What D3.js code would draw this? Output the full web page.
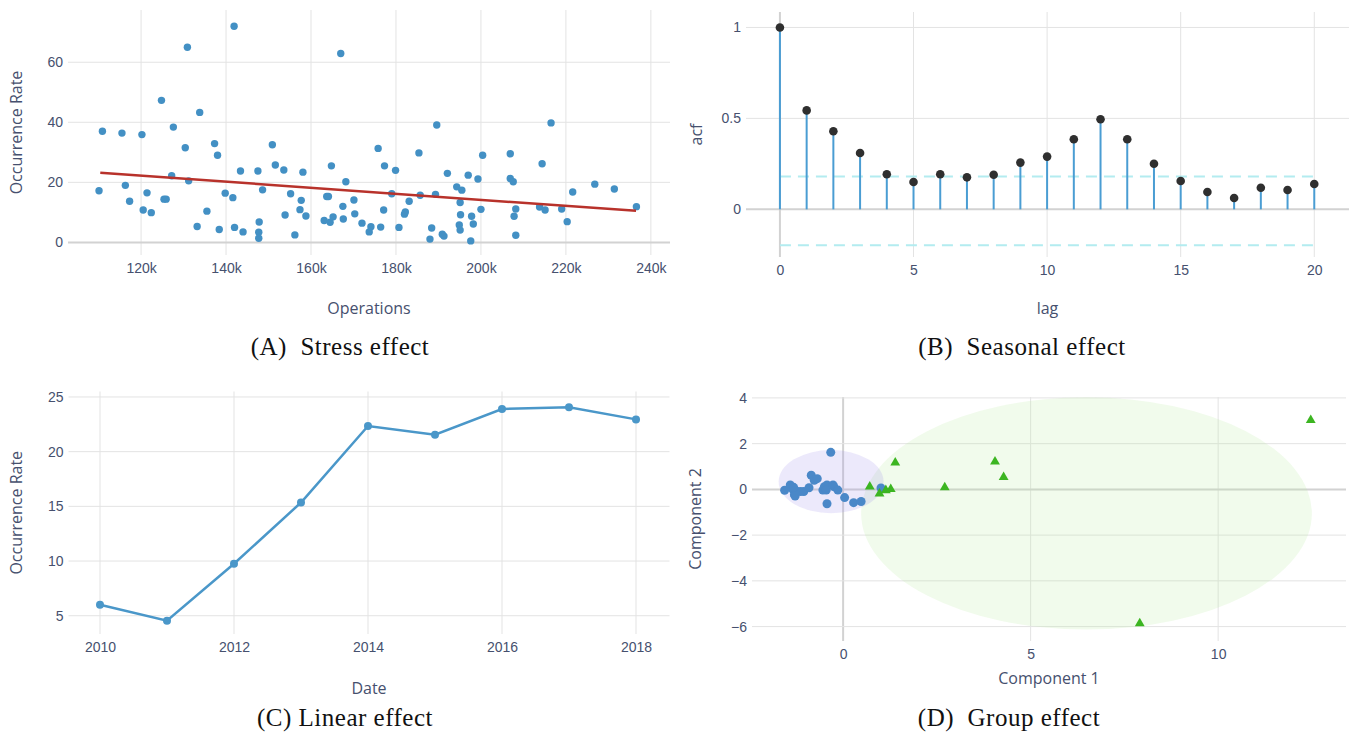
<!DOCTYPE html>
<html>
<head>
<meta charset="utf-8">
<style>
  body { margin: 0; background: #fff; }
  svg { display: block; font-family: "Open Sans", sans-serif; }
  .tick text { fill: #46506e; font-size: 14px; }
  .title { fill: #46506e; font-size: 16px; }
  .caption { font-family: "Liberation Serif", serif; font-size: 25px; fill: #111; white-space: pre; letter-spacing: 0.5px; }
</style>
</head>
<body>
<svg id="fig" width="1353" height="737"></svg>

<script src="https://d3js.org/d3.v7.min.js"></script>
<script>
    // (A) stress effect: operations (thousands) vs occurrence rate
    var operationsK = [110.1, 110.9, 115.5, 116.3, 117.3, 120.2, 120.5, 121.4, 122.4, 124.8, 125.4, 125.9,
        127.2, 127.6, 130.4, 130.9, 131.2, 133.2, 133.8, 135.5, 137.3, 138.0, 138.4, 139.8, 141.6, 141.9,
        142.0, 143.4, 144.0, 147.5, 147.7, 147.7, 147.8, 148.6, 150.9, 151.6, 153.6, 153.9, 155.2, 156.2,
        157.4, 157.7, 158.1, 158.8, 163.1, 163.7, 164.1, 164.5, 164.8, 165.2, 167.0, 167.5, 167.6, 168.2,
        170.1, 170.3, 172.0, 173.7, 174.1, 175.8, 176.4, 177.1, 177.3, 179.0, 179.9, 180.7, 182.0, 182.2,
        183.1, 185.4, 185.7, 188.0, 188.4, 189.3, 189.6, 190.9, 191.3, 192.1, 194.3, 195.5, 195.1, 195.2,
        194.9, 195.1, 197.0, 197.6, 197.8, 198.2, 199.3, 200.0, 200.4, 206.9, 206.9, 207.6, 207.8, 208.2,
        208.2, 213.8, 215.1, 214.4, 216.5, 219.0, 220.3, 221.6, 226.8, 231.4, 236.6]
    var stressRate = [17.2, 37.0, 36.4, 19.0, 13.7, 35.9, 10.8, 16.5, 9.9, 47.3, 14.4, 14.4,
        22.2, 38.4, 31.5, 65.0, 20.5, 5.3, 43.3, 10.4, 32.9, 29.0, 4.3, 16.4, 14.9, 72.0,
        5.0, 23.8, 3.5, 23.8, 3.4, 1.4, 6.8, 17.5, 32.5, 25.8, 24.1, 9.1, 16.2, 2.5,
        10.9, 14.0, 23.4, 8.8, 7.3, 15.3, 15.3, 6.7, 25.5, 8.5, 62.9, 12.0, 7.8, 20.2,
        14.1, 9.5, 6.4, 3.5, 5.2, 31.3, 5.1, 10.8, 25.5, 16.2, 24.0, 5.0, 9.4, 10.1,
        13.7, 29.8, 15.7, 1.1, 4.8, 16.0, 39.1, 2.7, 2.1, 23.0, 18.5, 17.4, 13.3, 9.2,
        5.8, 4.1, 22.4, 0.5, 8.7, 6.1, 21.1, 11.0, 29.0, 29.5, 21.3, 20.2, 8.7, 11.1,
        2.4, 11.8, 10.8, 26.2, 39.8, 11.1, 6.9, 16.8, 19.4, 17.8, 11.9]
    var trendOpsK = [110.4, 236.5]
    var trendRate = [23.2, 10.5]
    var stressXTicks = [120, 140, 160, 180, 200, 220, 240]
    var stressYTicks = [0, 20, 40, 60]

    // (B) seasonal effect: autocorrelation by lag
    var lags = [0, 1, 2, 3, 4, 5, 6, 7, 8, 9, 10, 11, 12, 13, 14, 15, 16, 17, 18, 19, 20]
    var acfValues = [1, 0.544, 0.429, 0.31, 0.193, 0.15, 0.193, 0.176, 0.19, 0.257, 0.29,
        0.385, 0.495, 0.385, 0.251, 0.156, 0.095, 0.062, 0.119, 0.106, 0.139]
    var confBand = [0.18, -0.198]
    var lagTicks = [0, 5, 10, 15, 20]
    var acfTicks = [0, 0.5, 1]

    // (C) linear effect: yearly occurrence rate
    var years = [2010, 2011, 2012, 2013, 2014, 2015, 2016, 2017, 2018]
    var yearlyRate = [6.0, 4.55, 9.75, 15.35, 22.35, 21.55, 23.9, 24.05, 22.95]
    var yearTicks = [2010, 2012, 2014, 2016, 2018]
    var yearlyYTicks = [5, 10, 15, 20, 25]

    // (D) group effect: two clusters in component space
    var groupAx = [-1.56, -1.41, -1.34, -1.30, -1.25, -1.14, -1.05, -0.91, -0.85, -0.77, -0.69,
        -0.54, -0.50, -0.43, -0.45, -0.27, -0.25, -0.14, -0.33, -0.43, 0.04, 0.28, 0.48, 1.01, -1.32, -1.28]
    var groupAy = [-0.04, 0.19, 0.0, -0.23, -0.07, -0.09, -0.09, 0.07, 0.62, 0.40, 0.47,
        -0.03, 0.12, 0.19, -0.03, 0.19, 0.12, -0.03, 1.62, -0.63, -0.36, -0.58, -0.53, 0.06, 0.09, -0.29]
    var groupBx = [12.47, 1.39, 4.05, 4.28, 2.71, 0.71, 0.97, 1.14, 1.27, 7.91]
    var groupBy = [3.03, 1.17, 1.21, 0.53, 0.09, 0.12, -0.19, -0.04, 0.01, -5.86]
    // ellipses: [cx, cy, rx, ry]
    var ellipseA = [-0.32, 0.34, 1.40, 1.38]
    var ellipseB = [6.49, -1.05, 6.01, 5.08]
    var compXTicks = [0, 5, 10]
    var compYTicks = [-6, -4, -2, 0, 2, 4]

    var svg = d3.select('#fig')

    function panel(c) {
        var g = svg.append('g')
        var x = d3.scaleLinear().domain(c.xDomain).range([c.left, c.right])
        var y = d3.scaleLinear().domain(c.yDomain).range([c.bottom, c.top])

        var grid = g.append('g')
        grid.selectAll('.vg').data(c.xTicks).enter().append('line')
            .attr('x1', d => x(d)).attr('x2', d => x(d))
            .attr('y1', c.top).attr('y2', c.bottom)
            .attr('stroke', d => (d === 0 && c.zero) ? '#d2d2d2' : '#e3e3e3')
            .attr('stroke-width', d => (d === 0 && c.zero) ? 2 : 1)
        grid.selectAll('.hg').data(c.yTicks).enter().append('line')
            .attr('x1', c.left).attr('x2', c.right)
            .attr('y1', d => y(d)).attr('y2', d => y(d))
            .attr('stroke', d => d === 0 ? '#d2d2d2' : '#e3e3e3')
            .attr('stroke-width', d => d === 0 ? 2 : 1)

        var xa = g.append('g').attr('transform', 'translate(0,' + c.bottom + ')')
            .call(d3.axisBottom(x).tickValues(c.xTicks).tickSize(0).tickPadding(8).tickFormat(c.xFmt))
        var ya = g.append('g').attr('transform', 'translate(' + c.left + ',0)')
            .call(d3.axisLeft(y).tickValues(c.yTicks).tickSize(0).tickPadding(5).tickFormat(c.yFmt))
        xa.select('.domain').remove()
        ya.select('.domain').remove()
        g.selectAll('.tick text').attr('font-family', null).attr('font-size', null)

        g.append('text').attr('class', 'title')
            .attr('x', (c.left + c.right) / 2).attr('y', c.xTitleY)
            .attr('text-anchor', 'middle').attr('dominant-baseline', 'middle')
            .text(c.xTitle)
        g.append('text').attr('class', 'title')
            .attr('transform', 'translate(' + c.yTitleX + ',' + (c.top + c.bottom) / 2 + ') rotate(-90)')
            .attr('text-anchor', 'middle').attr('dominant-baseline', 'middle')
            .text(c.yTitle)
        g.append('text').attr('class', 'caption')
            .attr('x', c.capX).attr('y', c.capY)
            .attr('text-anchor', 'middle').attr('dominant-baseline', 'middle')
            .text(c.caption)

        return { g: g, x: x, y: y, marks: g.append('g') }
    }

    // ---- (A)
    var pa = panel({
        left: 68, right: 670, top: 10, bottom: 255,
        xDomain: [102.8, 244.5], yDomain: [-4.2, 77.4],
        xTicks: stressXTicks, yTicks: stressYTicks,
        xFmt: d => d + 'k', yFmt: d => d,
        xTitle: 'Operations', yTitle: 'Occurrence Rate', xTitleY: 310, yTitleX: 18,
        caption: '(A)  Stress effect', capX: 340, capY: 349
    })
    pa.marks.selectAll('circle').data(operationsK).enter().append('circle')
        .attr('cx', d => pa.x(d))
        .attr('cy', (d, i) => pa.y(stressRate[i]))
        .attr('r', 3.7)
        .attr('fill', '#4390c4')
    pa.marks.append('path')
        .datum(trendOpsK)
        .attr('d', d3.line().x(d => pa.x(d)).y((d, i) => pa.y(trendRate[i])))
        .attr('stroke', '#b8322b').attr('stroke-width', 2.5).attr('fill', 'none')

    // ---- (B)
    var pb = panel({
        left: 746, right: 1349, top: 12, bottom: 257,
        xDomain: [-1.27, 21.3], yDomain: [-0.262, 1.085],
        xTicks: lagTicks, yTicks: acfTicks, zero: true,
        xFmt: d => d, yFmt: d => d,
        xTitle: 'lag', yTitle: 'acf', xTitleY: 310, yTitleX: 698,
        caption: '(B)  Seasonal effect', capX: 1022, capY: 349
    })
    pb.marks.selectAll('.band').data(confBand).enter().append('line')
        .attr('x1', pb.x(lags[0])).attr('x2', pb.x(lags[lags.length - 1]))
        .attr('y1', d => pb.y(d)).attr('y2', d => pb.y(d))
        .attr('stroke', '#b3ecf0').attr('stroke-width', 2).attr('stroke-dasharray', '11,7')
    pb.marks.selectAll('.stem').data(lags).enter().append('line')
        .attr('x1', d => pb.x(d)).attr('x2', d => pb.x(d))
        .attr('y1', pb.y(0)).attr('y2', (d, i) => pb.y(acfValues[i]))
        .attr('stroke', '#4a9dd3').attr('stroke-width', 2)
    pb.marks.selectAll('.dot').data(lags).enter().append('circle')
        .attr('cx', d => pb.x(d)).attr('cy', (d, i) => pb.y(acfValues[i]))
        .attr('r', 4.3).attr('fill', '#2f2f2f')

    // ---- (C)
    var pc = panel({
        left: 68.5, right: 669.5, top: 391.5, bottom: 634,
        xDomain: [2009.53, 2018.5], yDomain: [3.33, 25.5],
        xTicks: yearTicks, yTicks: yearlyYTicks,
        xFmt: d => d, yFmt: d => d,
        xTitle: 'Date', yTitle: 'Occurrence Rate', xTitleY: 690, yTitleX: 18,
        caption: '(C) Linear effect', capX: 345, capY: 720
    })
    pc.marks.append('path')
        .datum(years)
        .attr('d', d3.line().x(d => pc.x(d)).y((d, i) => pc.y(yearlyRate[i])))
        .attr('stroke', '#4a97c9').attr('stroke-width', 2.5).attr('fill', 'none')
    pc.marks.selectAll('circle').data(years).enter().append('circle')
        .attr('cx', d => pc.x(d)).attr('cy', (d, i) => pc.y(yearlyRate[i]))
        .attr('r', 4).attr('fill', '#4a97c9')

    // ---- (D)
    var pd = panel({
        left: 752, right: 1346, top: 397, bottom: 641,
        xDomain: [-2.43, 13.41], yDomain: [-6.63, 4.04],
        xTicks: compXTicks, yTicks: compYTicks, zero: true,
        xFmt: d3.format('d'), yFmt: d3.format('d'),
        xTitle: 'Component 1', yTitle: 'Component 2', xTitleY: 680, yTitleX: 697,
        caption: '(D)  Group effect', capX: 1009, capY: 720
    })
    pd.marks.selectAll('ellipse').data([ellipseB, ellipseA]).enter().append('ellipse')
        .attr('cx', d => pd.x(d[0])).attr('cy', d => pd.y(d[1]))
        .attr('rx', d => pd.x(d[0] + d[2]) - pd.x(d[0]))
        .attr('ry', d => pd.y(d[1] - d[3]) - pd.y(d[1]))
        .attr('fill', (d, i) => i === 0 ? 'rgb(185,235,160)' : 'rgb(160,145,235)')
        .attr('fill-opacity', 0.2)
    pd.marks.selectAll('.ga').data(groupAx).enter().append('circle')
        .attr('cx', d => pd.x(d)).attr('cy', (d, i) => pd.y(groupAy[i]))
        .attr('r', 4.5).attr('fill', '#4a88c8')
    pd.marks.selectAll('.gb').data(groupBx).enter().append('path')
        .attr('d', d3.symbol().type(d3.symbolTriangle).size(42))
        .attr('transform', (d, i) => 'translate(' + pd.x(d) + ',' + pd.y(groupBy[i]) + ')')
        .attr('fill', '#3cb521')
</script>
</body>
</html>
